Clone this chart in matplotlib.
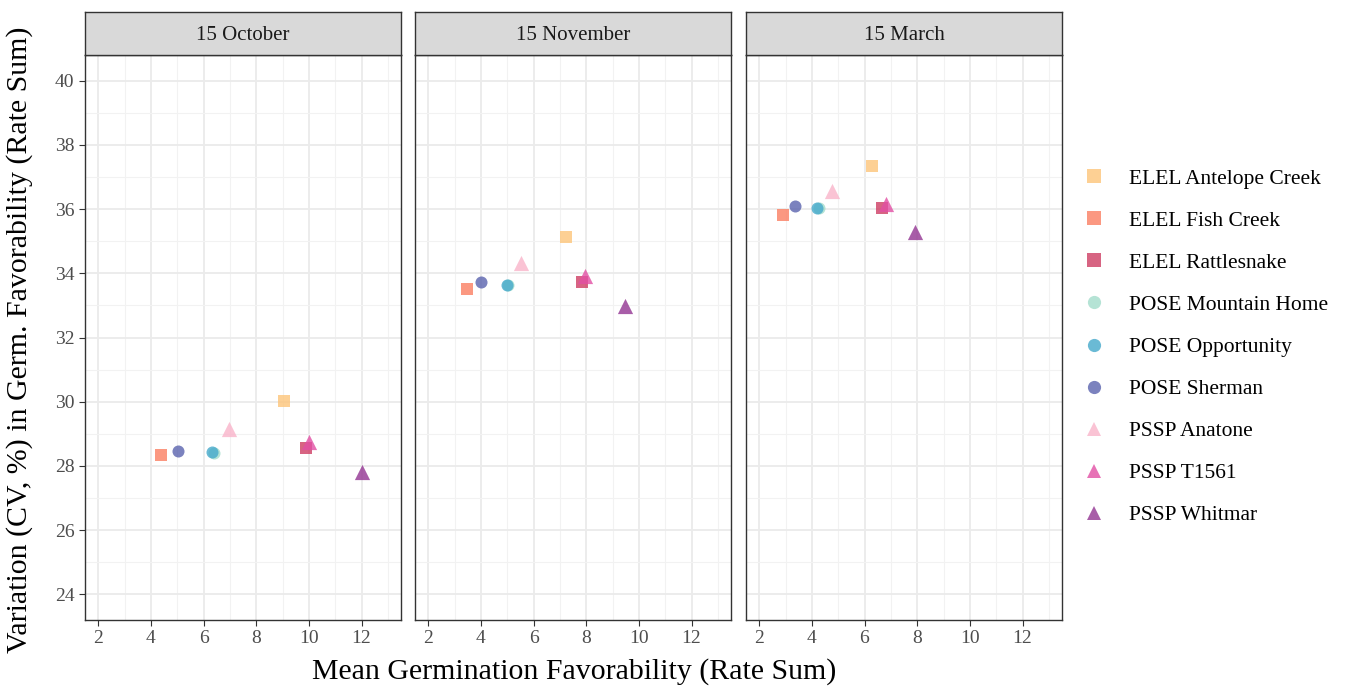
import matplotlib.pyplot as plt
from matplotlib.lines import Line2D

plt.rcParams['font.family'] = ['Liberation Serif', 'DejaVu Serif']

# ---------------------------------------------------------------- data
panels = ["15 October", "15 November", "15 March"]
sources = ["ELEL Antelope Creek", "ELEL Fish Creek", "ELEL Rattlesnake",
           "POSE Mountain Home", "POSE Opportunity", "POSE Sherman",
           "PSSP Anatone", "PSSP T1561", "PSSP Whitmar"]
markers = ["s", "s", "s", "o", "o", "o", "^", "^", "^"]
colors = ["#FDC57A", "#FB7E62", "#CE3D63", "#A3DCCB", "#45A9CB",
          "#5A63AE", "#F9B4CA", "#E24FA4", "#933592"]

# mean germination favorability (x) per panel, in source order
mean_oct = [9.05, 4.37, 9.90, 6.38, 6.31, 5.03, 6.95, 10.01, 12.00]
mean_nov = [7.22, 3.47, 7.83, 5.03, 4.98, 4.00, 5.52, 7.95, 9.46]
mean_mar = [6.30, 2.92, 6.66, 4.26, 4.21, 3.37, 4.75, 6.80, 7.91]

# CV (%) per panel, in source order
cv_oct = [30.02, 28.34, 28.56, 28.39, 28.44, 28.48, 29.15, 28.75, 27.82]
cv_nov = [35.14, 33.50, 33.72, 33.62, 33.65, 33.72, 34.31, 33.92, 32.98]
cv_mar = [37.35, 35.83, 36.04, 36.02, 36.04, 36.10, 36.55, 36.16, 35.28]

x_ticks = [2, 4, 6, 8, 10, 12]
y_ticks = [24, 26, 28, 30, 32, 34, 36, 38, 40]

all_x = [mean_oct, mean_nov, mean_mar]
all_y = [cv_oct, cv_nov, cv_mar]

# marker area per shape (points^2)
_size = {"s": 85, "o": 75, "^": 120}

# ---------------------------------------------------------------- figure
W, H = 1357, 686
fig = plt.figure(figsize=(W / 100, H / 100), dpi=100)

lefts = [85, 415, 746]
pw = 316
top, bottom = 55, 620
strip_h = 43

for k, title in enumerate(panels):
    ax = fig.add_axes([lefts[k] / W, 1 - bottom / H, pw / W, (bottom - top) / H])
    ax.set_xlim(1.5, 13.5)
    ax.set_ylim(23.2, 40.8)
    ax.set_xticks(x_ticks)
    ax.set_xticks([3, 5, 7, 9, 11, 13], minor=True)
    ax.set_yticks(y_ticks)
    ax.set_yticks([25, 27, 29, 31, 33, 35, 37, 39], minor=True)
    ax.grid(which="major", color="#EBEBEB", linewidth=1.3)
    ax.grid(which="minor", color="#F2F2F2", linewidth=0.8)
    ax.set_axisbelow(True)
    for s in ax.spines.values():
        s.set_color("#333333")
        s.set_linewidth(1.0)
    ax.tick_params(axis="both", which="major", labelsize=14, length=4,
                   color="#333333", labelcolor="#4D4D4D")
    ax.tick_params(which="minor", length=0)
    if k > 0:
        ax.tick_params(axis="y", labelleft=False, length=0)

    for i in range(len(sources)):
        ax.scatter(all_x[k][i], all_y[k][i], marker=markers[i],
                   s=_size[markers[i]], color=colors[i], alpha=0.8,
                   linewidths=0, zorder=3)

    # strip header
    sax = fig.add_axes([lefts[k] / W, 1 - top / H, pw / W, strip_h / H])
    sax.set_xticks([])
    sax.set_yticks([])
    sax.set_facecolor("#D9D9D9")
    for s in sax.spines.values():
        s.set_color("#333333")
        s.set_linewidth(1.0)
    sax.text(0.5, 0.45, title, ha="center", va="center", fontsize=15,
             color="#1A1A1A", transform=sax.transAxes)

fig.text((85 + 1063) / 2 / W, 1 - 672 / H, "Mean Germination Favorability (Rate Sum)",
         ha="center", va="center", fontsize=21.5)
fig.text(20 / W, 1 - 340 / H, "Variation (CV, %) in Germ. Favorability (Rate Sum)",
         ha="center", va="center", rotation=90, fontsize=21.5)

# legend
handles = [Line2D([], [], linestyle="none", marker=markers[i], color=colors[i],
                  alpha=0.8, markersize=9.5, markeredgewidth=0)
           for i in range(len(sources))]
fig.legend(handles, sources, loc="center left",
           bbox_to_anchor=(1062 / W, 1 - 347 / H), frameon=False,
           fontsize=15.5, labelspacing=1.02, handletextpad=1.0,
           handlelength=1.2)

fig.savefig("out.png", dpi=100)
